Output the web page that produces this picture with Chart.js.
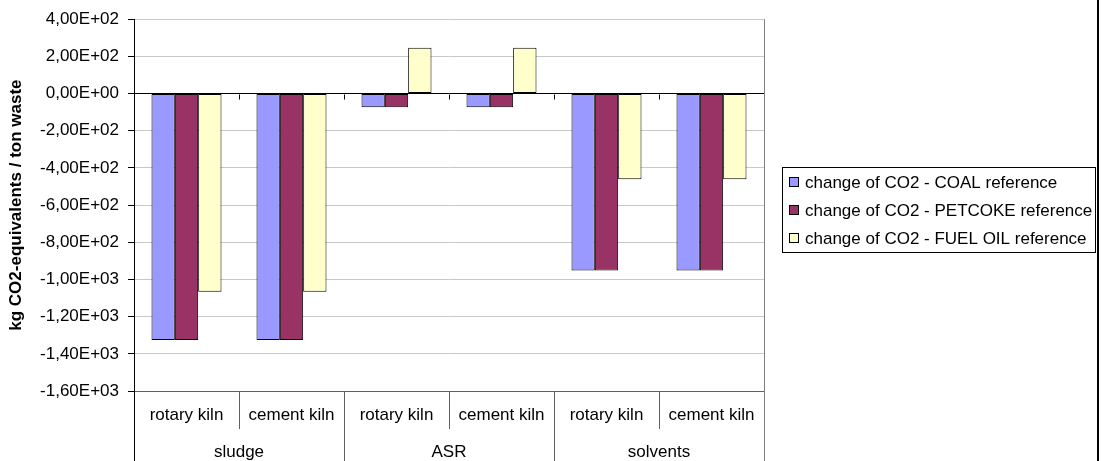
<!DOCTYPE html>
<html>
<head>
<meta charset="utf-8">
<script src="https://cdn.jsdelivr.net/npm/chart.js@4/dist/chart.umd.min.js"></script>
<style>
  html, body { margin: 0; padding: 0; background: #fff; }
  #wrap { width: 1101px; height: 461px; position: relative; }
</style>
</head>
<body>
<div id="wrap"><canvas id="c" width="1101" height="461"></canvas></div>
<script>
// Categories: kiln type (inner level) within waste type (outer level)
const kilns = ['rotary kiln', 'cement kiln', 'rotary kiln', 'cement kiln', 'rotary kiln', 'cement kiln'];
const wastes = ['sludge', 'ASR', 'solvents'];

// kg CO2-equivalents per ton of waste
const coalRef = [-1326, -1326, -73, -73, -952, -952];
const petcokeRef = [-1326, -1326, -73, -73, -952, -952];
const fuelOilRef = [-1066, -1066, 246, 246, -461, -461];

const seriesNames = [
  'change of CO2 - COAL reference',
  'change of CO2 - PETCOKE reference',
  'change of CO2 - FUEL OIL reference'
];
const seriesColors = ['#9999FF', '#993366', '#FFFFCC'];

// Value axis range and step
const yMin = -1600, yMax = 400, yStep = 200;

const FONT = 'Liberation Sans, Arial, sans-serif';

// Excel-style scientific format with decimal comma: 4,00E+02
function sci(v) {
  if (v === 0) return '0,00E+00';
  const s = Math.abs(v).toExponential(2);
  let [m, e] = s.split('e');
  const en = parseInt(e, 10);
  const es = (en < 0 ? '-' : '+') + String(Math.abs(en)).padStart(2, '0');
  return (v < 0 ? '-' : '') + m.replace('.', ',') + 'E' + es;
}

const decorations = {
  id: 'decorations',
  afterDraw(chart) {
    const ctx = chart.ctx;
    const { left, right, top, bottom } = chart.chartArea;
    const xs = chart.scales.x, ys = chart.scales.y;
    const H = chart.height;
    const n = kilns.length;
    const centers = kilns.map((_, i) => xs.getPixelForValue(i));
    const bounds = [left];
    for (let i = 0; i < n - 1; i++) bounds.push((centers[i] + centers[i + 1]) / 2);
    bounds.push(right);
    const px = v => Math.round(v) + 0.5;

    ctx.save();
    // tick marks on the zero line at category boundaries
    const y0 = px(ys.getPixelForValue(0));
    ctx.strokeStyle = '#000';
    ctx.lineWidth = 1;
    ctx.beginPath();
    for (let k = 1; k <= n; k++) {
      ctx.moveTo(px(bounds[k]), y0);
      ctx.lineTo(px(bounds[k]), y0 + 5);
    }
    ctx.stroke();

    // plot right border
    ctx.strokeStyle = '#808080';
    ctx.beginPath();
    ctx.moveTo(px(right), top);
    ctx.lineTo(px(right), H);
    ctx.stroke();

    // category table below plot
    ctx.strokeStyle = '#606060';
    ctx.beginPath();
    ctx.moveTo(left, px(bottom));
    ctx.lineTo(right, px(bottom));
    for (let k = 1; k < n; k++) {
      ctx.moveTo(px(bounds[k]), bottom);
      ctx.lineTo(px(bounds[k]), k % 2 === 0 ? H : bottom + 38);
    }
    ctx.stroke();

    // value axis line continued down through the table
    ctx.strokeStyle = '#000';
    ctx.beginPath();
    ctx.moveTo(px(left), top);
    ctx.lineTo(px(left), H);
    ctx.stroke();

    ctx.fillStyle = '#000';
    ctx.font = '17px ' + FONT;
    ctx.textAlign = 'center';
    ctx.textBaseline = 'middle';
    kilns.forEach((k, i) => ctx.fillText(k, centers[i], bottom + 24));
    wastes.forEach((w, g) => ctx.fillText(w, (bounds[2 * g] + bounds[2 * g + 2]) / 2, bottom + 61));

    // legend
    const lx = 782.5, ly = 167.5, lw = 313, lh = 85;
    ctx.strokeStyle = '#000';
    ctx.strokeRect(lx, ly, lw, lh);
    ctx.textAlign = 'left';
    chart.data.datasets.forEach((ds, i) => {
      const ry = 182 + i * 28;
      ctx.fillStyle = ds.backgroundColor;
      ctx.fillRect(789, ry - 5, 10, 10);
      ctx.strokeStyle = '#000';
      ctx.strokeRect(789.5, ry - 4.5, 9, 9);
      ctx.fillStyle = '#000';
      ctx.fillText(ds.label, 805, ry + 1);
    });

    // outer frame edge
    ctx.fillStyle = '#000';
    ctx.fillRect(1097, 0, 2, H);
    ctx.restore();
  }
};

const seriesValues = [coalRef, petcokeRef, fuelOilRef];

new Chart(document.getElementById('c'), {
  type: 'bar',
  data: {
    labels: kilns,
    datasets: seriesValues.map((vals, i) => ({
      label: seriesNames[i],
      data: vals,
      backgroundColor: seriesColors[i],
      borderColor: '#000',
      borderWidth: 1,
      borderSkipped: false,
      categoryPercentage: 0.6667,
      barPercentage: 1.0
    }))
  },
  options: {
    responsive: false,
    animation: false,
    devicePixelRatio: 1,
    layout: { padding: { left: 0, right: 337, top: 17, bottom: 70 } },
    plugins: { legend: { display: false }, tooltip: { enabled: false } },
    scales: {
      x: { display: false },
      y: {
        min: yMin,
        max: yMax,
        afterFit(scale) { scale.width = 134; },
        ticks: {
          stepSize: yStep,
          padding: 9,
          color: '#000',
          font: { family: FONT, size: 17 },
          callback: v => sci(v)
        },
        grid: {
          color: c => (c.tick && c.tick.value === 0 ? '#000' : '#c8c8c8'),
          tickColor: '#000',
          tickLength: 6,
          lineWidth: 1
        },
        border: { display: true, color: '#000', width: 1 },
        title: {
          display: true,
          text: 'kg CO2-equivalents / ton waste',
          color: '#000',
          font: { family: FONT, size: 17, weight: 'bold' },
          padding: { top: 6, bottom: 0 }
        }
      }
    }
  },
  plugins: [decorations]
});
</script>
</body>
</html>
